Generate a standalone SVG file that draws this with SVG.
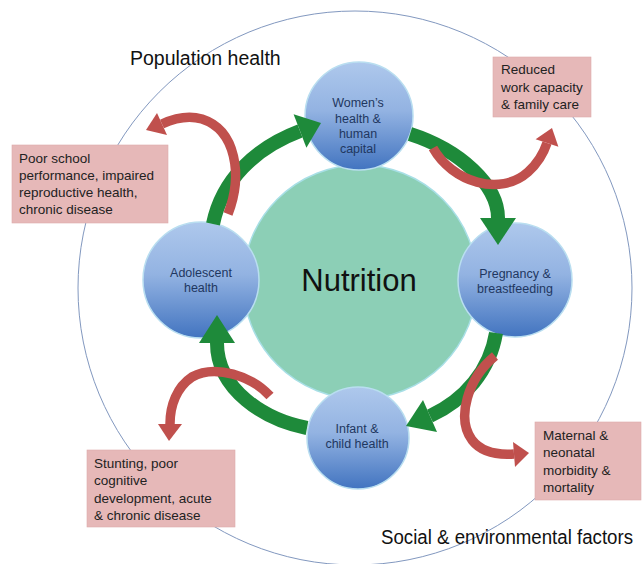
<svg xmlns="http://www.w3.org/2000/svg" width="644" height="564" viewBox="0 0 644 564">
<defs>
<linearGradient id="blue" x1="0" y1="0" x2="0" y2="1">
<stop offset="0" stop-color="#aec8ec"/>
<stop offset="0.45" stop-color="#93b3e2"/>
<stop offset="1" stop-color="#4274c0"/>
</linearGradient>
<style>
.node{fill:url(#blue);stroke:#b9def0;stroke-width:1.5}
.ntxt{font-family:"Liberation Sans",Arial,sans-serif;font-size:12.5px;fill:#1f3760;text-anchor:middle}
.box{fill:#e6b8b8;stroke:#dcaaaa;stroke-width:0.6}
.btxt{font-family:"Liberation Sans",Arial,sans-serif;font-size:13.5px;fill:#222}
.lbl{font-family:"Liberation Sans",Arial,sans-serif;font-size:19.5px;fill:#111}
.gshaft{fill:none;stroke:#1e8a3a;stroke-width:14}
.ghead{fill:#1e8a3a}
.rshaft{fill:none;stroke:#c0504d;stroke-width:9.5}
.rhead{fill:#c0504d}
</style>
</defs>
<rect width="644" height="564" fill="#ffffff"/>
<circle id="outer" cx="355" cy="288" r="277" fill="none" stroke="#8298bf" stroke-width="1"/>
<g id="nutrition">
<circle cx="360" cy="282" r="117" fill="#8ccfb6" stroke="#a8dfe6" stroke-width="1.5"/>
<text x="359" y="291" font-family="'Liberation Sans',Arial,sans-serif" font-size="31" fill="#111" text-anchor="middle">Nutrition</text>
</g>
<g id="womens">
<circle class="node" cx="359" cy="116" r="54"/>
<text class="ntxt" x="358" y="107">Women’s</text>
<text class="ntxt" x="358" y="123">health &amp;</text>
<text class="ntxt" x="358" y="138">human</text>
<text class="ntxt" x="358" y="153">capital</text>
</g>
<g id="pregnancy">
<circle class="node" cx="515" cy="280" r="57"/>
<text class="ntxt" x="515" y="278">Pregnancy &amp;</text>
<text class="ntxt" x="515" y="293">breastfeeding</text>
</g>
<g id="infant">
<circle class="node" cx="358" cy="438" r="51"/>
<text class="ntxt" x="357" y="433">Infant &amp;</text>
<text class="ntxt" x="357" y="448">child health</text>
</g>
<g id="adolescent">
<circle class="node" cx="201" cy="280" r="58"/>
<text class="ntxt" x="201" y="277">Adolescent</text>
<text class="ntxt" x="201" y="292">health</text>
</g>
<g id="connectors">
<path class="gshaft" d="M213,224 C222,180 255,148 300,131"/>
<polygon class="ghead" points="306.4,147.8 293.6,114.2 321,123"/>
<path class="gshaft" d="M410,134 C460,150 498,185 498,218"/>
<polygon class="ghead" points="480,218 516,218 498,245"/>
<path class="gshaft" d="M496,333 C490,370 465,400 430,416"/>
<polygon class="ghead" points="437,432 423,400 406,426"/>
<path class="gshaft" d="M307,428 C265,420 217,390 217,343"/>
<polygon class="ghead" points="199,343 235,343 217,315"/>
<path class="rshaft" d="M228,214 C243,175 236,130 202,119 C188,115 175,118 162,124"/>
<polygon class="rhead" points="167,135 157,113 146,130"/>
<path class="rshaft" d="M433,148 C452,182 500,197 528,172 C538,163 544,152 547,143"/>
<polygon class="rhead" points="558.4,146.8 535.6,139.2 552,128"/>
<path class="rshaft" d="M495,356 C468,378 456,418 472,440 C482,453 500,455 514,454"/>
<polygon class="rhead" points="515,467 513,442 529,453"/>
<path class="rshaft" d="M270,396 C252,376 215,364 192,377 C177,387 170,405 170,424"/>
<polygon class="rhead" points="158,424 182,424 169,441"/>
</g>
<g id="box-school">
<rect class="box" x="12" y="145" width="156" height="78"/>
<text class="btxt" x="19" y="163">Poor school</text>
<text class="btxt" x="19" y="180">performance, impaired</text>
<text class="btxt" x="19" y="197">reproductive health,</text>
<text class="btxt" x="19" y="214">chronic disease</text>
</g>
<g id="box-work">
<rect class="box" x="493" y="57" width="98" height="60"/>
<text class="btxt" x="501" y="74">Reduced</text>
<text class="btxt" x="501" y="92">work capacity</text>
<text class="btxt" x="501" y="109">&amp; family care</text>
</g>
<g id="box-stunting">
<rect class="box" x="87" y="450" width="148" height="77"/>
<text class="btxt" x="94" y="468">Stunting, poor</text>
<text class="btxt" x="94" y="485">cognitive</text>
<text class="btxt" x="94" y="503">development, acute</text>
<text class="btxt" x="94" y="520">&amp; chronic disease</text>
</g>
<g id="box-maternal">
<rect class="box" x="535" y="422" width="106" height="78"/>
<text class="btxt" x="543" y="440">Maternal &amp;</text>
<text class="btxt" x="543" y="457">neonatal</text>
<text class="btxt" x="543" y="475">morbidity &amp;</text>
<text class="btxt" x="543" y="492">mortality</text>
</g>
<text class="lbl" x="130" y="65">Population health</text>
<text class="lbl" x="381" y="544" font-size="18.5" textLength="252" lengthAdjust="spacingAndGlyphs">Social &amp; environmental factors</text>
</svg>
